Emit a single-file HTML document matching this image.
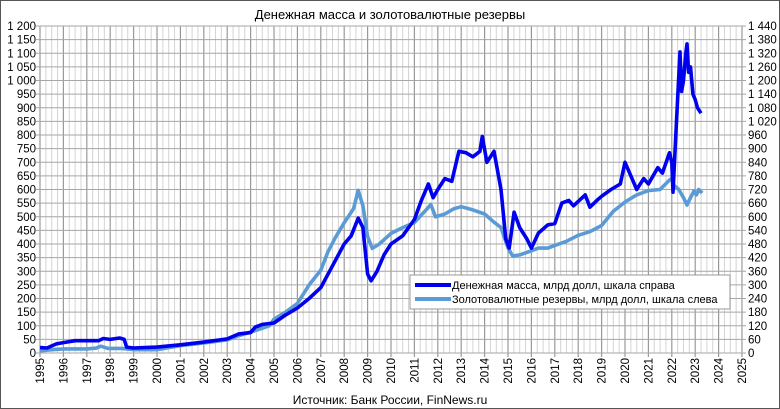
<!DOCTYPE html>
<html><head><meta charset="utf-8"><style>
html,body{margin:0;padding:0;background:#fff}
svg{display:block;font-family:"Liberation Sans",sans-serif}
</style></head><body>
<svg id="c" width="780" height="409" viewBox="0 0 780 409">
<rect x="0.5" y="0.5" width="779" height="408" fill="#fff" stroke="#555"/>
<text x="390" y="19" font-size="13" text-anchor="middle" fill="#000">Денежная масса и золотовалютные резервы</text>
<g id="grid"></g><g id="axes"></g><g id="series"></g>
<g>
<rect x="410" y="275" width="320" height="34" fill="#fff" stroke="#999"/>
<line x1="415" y1="285" x2="451" y2="285" stroke="#0000ee" stroke-width="4"/>
<text x="452" y="289" font-size="11">Денежная масса, млрд долл, шкала справа</text>
<line x1="415" y1="299" x2="451" y2="299" stroke="#5b9bd5" stroke-width="4"/>
<text x="452" y="303" font-size="11">Золотовалютные резервы, млрд долл, шкала слева</text>
</g>
<text x="390" y="404" font-size="12" text-anchor="middle">Источник: Банк России, FinNews.ru</text>
</svg>
<script>
const moneyYears=[1995,1995.3,1995.7,1996,1996.5,1997,1997.5,1997.7,1998,1998.4,1998.6,1998.7,1999,2000,2001,2002,2003,2003.5,2004,2004.2,2004.5,2005,2005.5,2006,2006.5,2007,2007.5,2008,2008.3,2008.6,2008.8,2009,2009.15,2009.4,2009.7,2010,2010.5,2011,2011.3,2011.6,2011.8,2012,2012.3,2012.6,2012.9,2013.2,2013.5,2013.8,2013.9,2014.1,2014.4,2014.7,2014.9,2015.05,2015.26,2015.5,2015.8,2016,2016.3,2016.7,2017,2017.3,2017.6,2017.8,2018.3,2018.5,2018.8,2019,2019.4,2019.8,2020,2020.3,2020.5,2020.8,2021,2021.4,2021.6,2021.9,2022,2022.05,2022.2,2022.35,2022.42,2022.5,2022.6,2022.65,2022.72,2022.8,2022.9,2023,2023.1,2023.25];
const moneyValues=[24,22,40,46,54,54,54,64,60,66,60,26,22,26,36,48,62,84,90,114,126,132,168,198,240,288,384,480,516,594,552,348,318,360,432,480,516,588,672,744,684,720,768,756,888,882,864,888,954,840,888,720,504,462,620,552,504,462,528,564,570,660,672,648,696,642,672,690,720,744,840,768,720,768,744,816,792,882,840,708,1020,1326,1152,1200,1320,1361,1236,1260,1140,1116,1080,1056];
const resYears=[1995,1995.5,1996,1997,1997.4,1997.6,1997.9,1998.5,1999,1999.5,2000,2000.5,2001,2002,2003,2003.5,2004,2004.3,2004.8,2005,2005.5,2006,2006.5,2007,2007.3,2007.6,2008,2008.4,2008.6,2008.8,2009,2009.2,2009.5,2010,2010.5,2011,2011.5,2011.7,2011.9,2012.3,2012.7,2013,2013.5,2014,2014.4,2014.7,2015,2015.2,2015.5,2016,2016.3,2016.7,2017,2017.5,2018,2018.5,2019,2019.5,2020,2020.5,2021,2021.5,2021.9,2022,2022.1,2022.3,2022.5,2022.65,2022.8,2022.95,2023.05,2023.15,2023.3];
const resValues=[8,12,15,15,18,25,17,17,12,12,12,20,27,37,48,64,77,85,100,124,150,182,250,304,370,420,478,530,597,540,427,384,400,439,460,479,525,545,500,510,530,537,525,510,480,460,385,356,360,375,385,385,395,410,432,445,468,520,554,580,596,600,635,640,615,600,570,543,570,595,580,600,587];
const leftTicks=[0,50,100,150,200,250,300,350,400,450,500,550,600,650,700,750,800,850,900,950,1000,1050,1100,1150,1200];
const rightTicks=[0,60,120,180,240,300,360,420,480,540,600,660,720,780,840,900,960,1020,1080,1140,1200,1260,1320,1380,1440];
const yearTicks=[1995,1996,1997,1998,1999,2000,2001,2002,2003,2004,2005,2006,2007,2008,2009,2010,2011,2012,2013,2014,2015,2016,2017,2018,2019,2020,2021,2022,2023,2024,2025];
const X0=40,X1=742,Y0=353,Y1=26;
const xs=t=>X0+(t-1995)/30*(X1-X0);
const yl=v=>Y0-v/1200*(Y0-Y1);
const yr=v=>Y0-v/1440*(Y0-Y1);
const NS="http://www.w3.org/2000/svg";
function mk(tag,attrs,parent){const e=document.createElementNS(NS,tag);for(const k in attrs)e.setAttribute(k,attrs[k]);parent.appendChild(e);return e;}
const grid=document.getElementById('grid'),axes=document.getElementById('axes'),ser=document.getElementById('series');
for(let q=0;q<120;q++){if(q%4===0)continue;const x=X0+q/120*(X1-X0);
const l=mk('line',{x1:x,x2:x,y1:Y1,y2:Y0,stroke:'#d4d4d4','stroke-width':1},grid);

}
yearTicks.forEach(t=>{const x=xs(t);
const l=mk('line',{x1:x,x2:x,y1:Y1,y2:Y0+4,stroke:'#999','stroke-width':1.2},grid);


const tx=mk('text',{x:0,y:0,transform:`translate(${x+4},${Y0+5}) rotate(-90)`,'font-size':11.5,'text-anchor':'end'},axes);
tx.textContent=t;

});
leftTicks.forEach(v=>{const y=yl(v);
const l=mk('line',{x1:X0-4,x2:X1+4,y1:y,y2:y,stroke:'#a6a6a6','stroke-width':1},grid);


const tx=mk('text',{x:36,y:y+4,'font-size':11.5,'text-anchor':'end'},axes);
tx.textContent=v>=1000?String(v).replace(/(\d)(\d{3})$/,'$1 $2'):v;

});
rightTicks.forEach(v=>{const y=yr(v);
const tx=mk('text',{x:748,y:y+4,'font-size':11.5,'text-anchor':'start'},axes);
tx.textContent=v>=1000?String(v).replace(/(\d)(\d{3})$/,'$1 $2'):v;

});
const pr=resYears.map((t,i)=>xs(t).toFixed(1)+','+yl(resValues[i]).toFixed(1)).join(' ');
const p1=mk('polyline',{points:pr,fill:'none',stroke:'#5b9bd5','stroke-width':3.6,'stroke-linejoin':'round'},ser);


const pm=moneyYears.map((t,i)=>xs(t).toFixed(1)+','+yr(moneyValues[i]).toFixed(1)).join(' ');
const p2=mk('polyline',{points:pm,fill:'none',stroke:'#0000ee','stroke-width':3.6,'stroke-linejoin':'round'},ser);


</script>
</body></html>
